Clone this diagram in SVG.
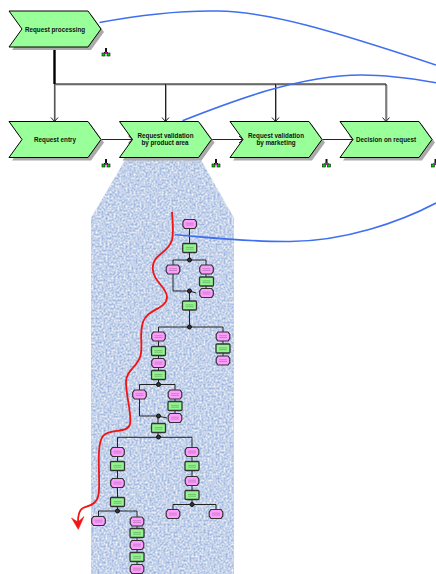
<svg xmlns="http://www.w3.org/2000/svg" width="436" height="574" viewBox="0 0 436 574">
<style>
text{font-family:"Liberation Sans",Arial,sans-serif;font-weight:bold;font-size:6.3px;fill:#111;text-anchor:middle}
.chev{fill:#99ff99;stroke:#000;stroke-width:1}
.shadow{fill:#aaa}
.c{fill:none;stroke:#222;stroke-width:1}
.cs{fill:none;stroke:#aaa;stroke-width:1}
.b{fill:none;stroke:#3f6ff0;stroke-width:1.6}
.ev{fill:#ff9cff;stroke:#333;stroke-width:1.2}
.fn{fill:#93f58f;stroke:#333;stroke-width:1.3}
.ln{stroke:#a070a0;stroke-width:.6}
.lf{stroke:#5a9a5a;stroke-width:.6}
.gw{fill:#333;stroke:#111;stroke-width:1}
</style>
<defs>
<filter id="tex" x="0" y="0" width="100%" height="100%" color-interpolation-filters="sRGB">
<feTurbulence type="fractalNoise" baseFrequency="0.5" numOctaves="2" seed="4" result="n"/>
<feColorMatrix in="n" type="matrix" values="0.6 0 0 0 0.47  0.45 0 0 0 0.6  0.2 0 0 0 0.82  0 0 0 0 1"/>
<feComposite in2="SourceAlpha" operator="in"/>
</filter>
<path id="chev" d="M0,0H79L92,18L79,36H0L13,18Z"/>
<g id="ico"><rect x="-1" y="-4" width="2" height="3.500" fill="#111"/><path d="M0,-1L-3,2M0,-1L3,2" stroke="#111" fill="none"/><rect x="-4" y="1" width="3" height="3" fill="#0c0" stroke="#111" stroke-width=".6"/><rect x="1" y="1" width="3" height="3" fill="#0c0" stroke="#111" stroke-width=".6"/><rect x="-1" y="0" width="2" height="2" fill="#c0c"/></g>
<g id="e"><path class="ev" d="M-5,-4.500H5L6.800,-2V2L5,4.500H-5L-6.800,2V-2Z"/><path class="ln" d="M-4,-.8H4M-4,1H4"/></g>
<g id="f"><rect class="fn" x="-7" y="-4.500" width="14" height="9" rx="1"/><path class="lf" d="M-4,-.6H4M-4,1.200H4"/></g>
<circle id="g" class="gw" r="2"/>
<path id="ah" d="M-3.500,-4L0,0L3.500,-4" fill="none" stroke="#222" stroke-width="1"/>
<path id="ar" d="M-4,-3.500L0,0L-4,3.500" fill="none" stroke="#222" stroke-width="1"/>
</defs>

<polygon id="texture" points="125,160 201,160 234,218 234,574 91,574 91,218" fill="#000" filter="url(#tex)"/>

<g id="connectors">
<path class="cs" d="M55.500,85V120M166.500,85V120M276.500,85V120M387,85V120M55,85H387"/>
<path d="M54.500,47V84" fill="none" stroke="#000" stroke-width="2.400"/>
<path d="M54.500,84H386" fill="none" stroke="#000" stroke-width="1.200"/>
<path d="M54.500,84V121" fill="none" stroke="#555" stroke-width="1.200"/>
<path class="c" d="M165.500,84V121M275.500,84V121M386,84V121M101,139.500H132M211,139.500H242M322,139.500H353"/>
<use href="#ah" x="54.500" y="121.500"/><use href="#ah" x="165.500" y="121.500"/><use href="#ah" x="275.500" y="121.500"/><use href="#ah" x="386" y="121.500"/>
<use href="#ar" x="132.500" y="139.500"/><use href="#ar" x="243" y="139.500"/><use href="#ar" x="353.500" y="139.500"/>
<path class="c" d="M189.500,224V260M173,269V260H206V270M206,270V293M173,270V291H188M189.500,291V327M190,291L196,293M158.500,336V327H223V336M158.500,336V385M223,336V361M139.500,394V384.500H175V394M175,394V418M139.500,394V416H158M158,416V437M158,416L167,418M117.500,452V437.300H192V452M117.500,452V511M192,452V504.500M98.500,521V511H137V521M137,521V569M173,514V504.500H216V514" stroke-width="1.300"/>
<path class="b" d="M99.500,22.500C150,13 190,10.500 218,11C270,12 330,30 436,65"/>
<path class="b" d="M182.500,120.700C230,102 300,75 361,75C390,75 415,79 436,82.700"/>
<path class="b" d="M175,234.700C215,238 250,242 290,241.500C345,241 400,222 436,203"/>
<path d="M172,212C172.500,222 174,232 172,240C168,254 152.500,254 152.700,268C153,282 167,287 167,297C167,309 147,309 143,322C139,335 143,345 140.700,355C138,367 126,370 126,382C126,397 132,413 130,424C128,434 110,428 103,436C96,445 100,475 99,490C98.500,505 90,505 83,508C79,510 78,515 78,522" fill="none" stroke="#f01414" stroke-width="1.800"/>
<path d="M71.500,518L78,522L84,516.500L78.300,529.500Z" fill="#f01414" stroke="#f01414" stroke-width=".5"/>
</g>

<g id="processing"><use href="#chev" class="shadow" x="12" y="14"/><use href="#chev" class="chev" x="9" y="11"/><text x="55" y="32">Request processing</text></g>
<g id="entry"><use href="#chev" class="shadow" x="12" y="124.500"/><use href="#chev" class="chev" x="9" y="121.500"/><text x="55" y="142">Request entry</text></g>
<g id="validation-product"><use href="#chev" class="shadow" x="122.500" y="124.500"/><use href="#chev" class="chev" x="119.500" y="121.500"/><text x="165.500" y="138">Request validation</text><text x="165" y="145">by product area</text></g>
<g id="validation-marketing"><use href="#chev" class="shadow" x="233" y="124.500"/><use href="#chev" class="chev" x="230" y="121.500"/><text x="276" y="138">Request validation</text><text x="276" y="145">by marketing</text></g>
<g id="decision"><use href="#chev" class="shadow" x="343" y="124.500"/><use href="#chev" class="chev" x="340" y="121.500"/><text x="386" y="142">Decision on request</text></g>

<g id="icons"><use href="#ico" x="106" y="52"/><use href="#ico" x="106" y="163"/><use href="#ico" x="216" y="163"/><use href="#ico" x="326.500" y="163"/><use href="#ico" x="435.500" y="163"/></g>

<g id="n1"><use href="#e" x="189.700" y="224"/></g>
<g id="n2"><use href="#f" x="189.700" y="248"/></g>
<g id="g1"><use href="#g" x="189.500" y="260"/></g>
<g id="n3"><use href="#e" x="173" y="269.500"/></g>
<g id="n4"><use href="#e" x="206.500" y="269.500"/></g>
<g id="n5"><use href="#f" x="206.500" y="281.500"/></g>
<g id="n6"><use href="#e" x="206.500" y="293"/></g>
<g id="g2"><use href="#g" x="189.500" y="291"/></g>
<g id="n7"><use href="#f" x="189.500" y="305.500"/></g>
<g id="g3"><use href="#g" x="189.500" y="327"/></g>
<g id="n8"><use href="#e" x="158.500" y="336.500"/></g>
<g id="n9"><use href="#f" x="158.500" y="351"/></g>
<g id="n10"><use href="#e" x="158.500" y="363"/></g>
<g id="n11"><use href="#f" x="158.500" y="375"/></g>
<g id="g4"><use href="#g" x="158.500" y="384.500"/></g>
<g id="n12"><use href="#e" x="223" y="336.500"/></g>
<g id="n13"><use href="#f" x="223" y="348.500"/></g>
<g id="n14"><use href="#e" x="223" y="360.500"/></g>
<g id="n15"><use href="#e" x="139.500" y="394.500"/></g>
<g id="n16"><use href="#e" x="175" y="394.500"/></g>
<g id="n17"><use href="#f" x="175" y="406"/></g>
<g id="n18"><use href="#e" x="175" y="418"/></g>
<g id="g5"><use href="#g" x="158.500" y="416"/></g>
<g id="n19"><use href="#f" x="158.500" y="428"/></g>
<g id="g6"><use href="#g" x="158.500" y="437"/></g>
<g id="n20"><use href="#e" x="117.500" y="452"/></g>
<g id="n21"><use href="#f" x="117.500" y="466"/></g>
<g id="n22"><use href="#e" x="117.500" y="483"/></g>
<g id="n23"><use href="#f" x="117.500" y="502"/></g>
<g id="g7"><use href="#g" x="117.500" y="511"/></g>
<g id="n24"><use href="#e" x="98.500" y="521"/></g>
<g id="n25"><use href="#e" x="137" y="521.500"/></g>
<g id="n26"><use href="#f" x="137" y="533"/></g>
<g id="n27"><use href="#e" x="137" y="545"/></g>
<g id="n28"><use href="#f" x="137" y="557"/></g>
<g id="n29"><use href="#e" x="137" y="569"/></g>
<g id="n30"><use href="#e" x="192" y="452"/></g>
<g id="n31"><use href="#f" x="192" y="466"/></g>
<g id="n32"><use href="#e" x="192" y="481"/></g>
<g id="n33"><use href="#f" x="192" y="495"/></g>
<g id="g8"><use href="#g" x="192" y="504.500"/></g>
<g id="n34"><use href="#e" x="173" y="514"/></g>
<g id="n35"><use href="#e" x="216" y="514"/></g>
</svg>
